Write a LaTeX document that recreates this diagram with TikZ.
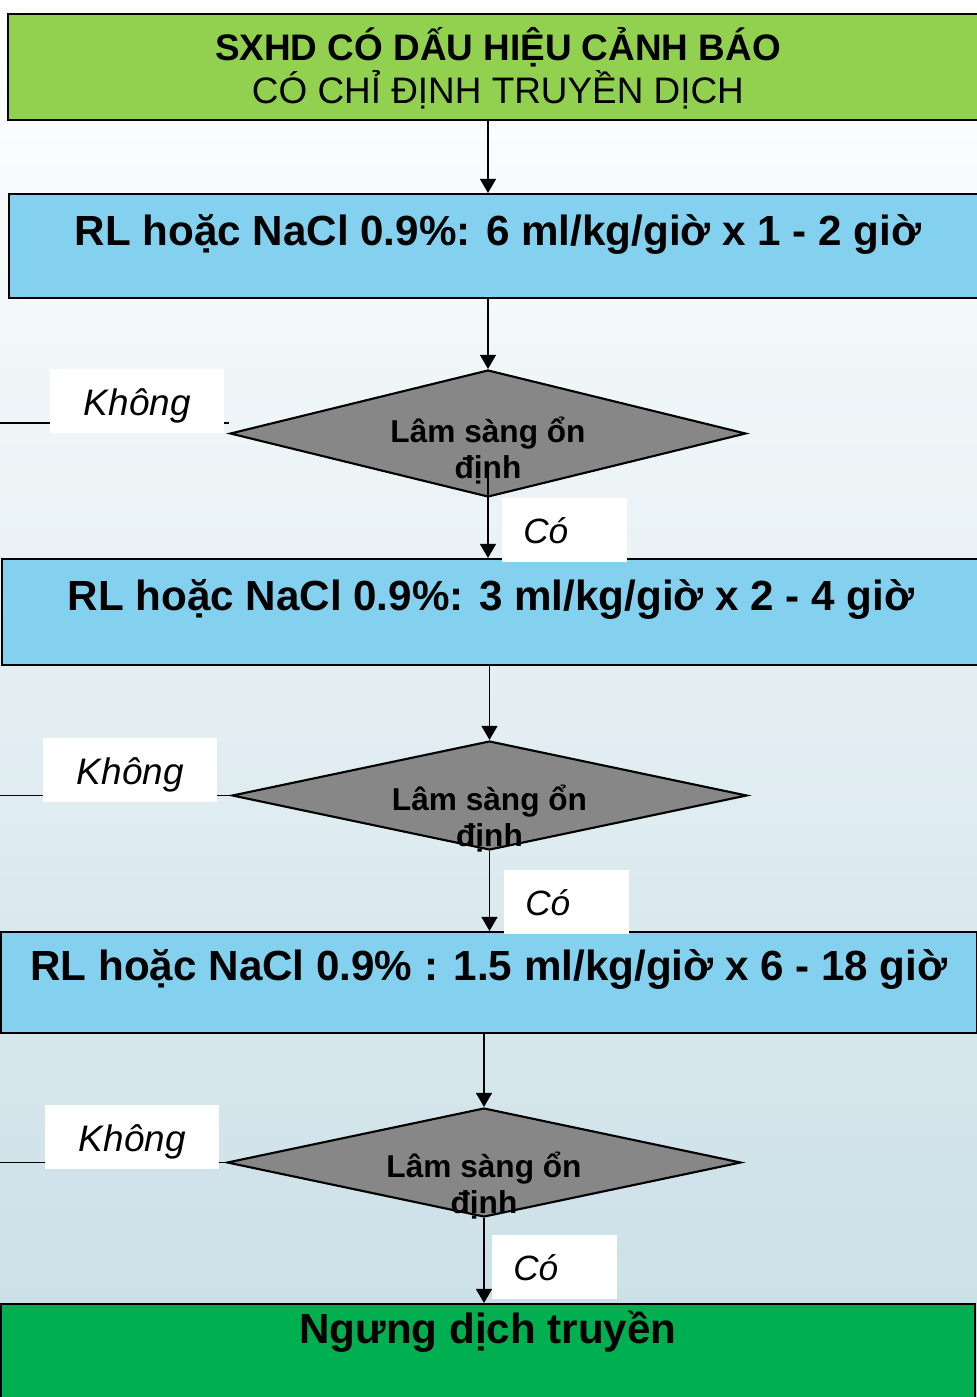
\documentclass[tikz,border=0pt]{standalone}
\usepackage{fontspec}
\setmainfont{Liberation Sans}
\usetikzlibrary{shapes.geometric,arrows.meta}

\definecolor{warngreen}{RGB}{146,208,80}
\definecolor{doseblue}{RGB}{131,209,239}
\definecolor{stopgreen}{RGB}{0,176,80}
\definecolor{askgray}{RGB}{135,135,135}
\definecolor{bgblue}{RGB}{200,222,230}

\tikzset{
  stage/.style={draw=black, line width=1.2pt, anchor=north west, inner sep=0pt,
    font=\bfseries\fontsize{24}{28}\selectfont},
  check/.style={diamond, draw=black, line width=1.2pt, fill=askgray, inner sep=0pt},
  asktext/.style={anchor=base, align=center, inner sep=0pt,
    font=\bfseries\fontsize{18}{20.4}\selectfont},
  nolabel/.style={fill=white, anchor=north west, inner sep=0pt,
    minimum width=3.48cm, minimum height=1.28cm, text height=0.92cm, text depth=0.36cm,
    font=\itshape\fontsize{21}{24}\selectfont},
  yeslabel/.style={fill=white, anchor=north west, inner xsep=0.42cm, inner ysep=0pt,
    text width=1.66cm, align=left, minimum height=1.28cm, text height=0.9cm, text depth=0.38cm,
    font=\itshape\fontsize{20}{24}\selectfont},
  flow/.style={line width=1.1pt, -{Triangle[length=8pt,width=9pt]}},
  link/.style={line width=1.1pt}
}

\begin{document}
\begin{tikzpicture}[x=0.02cm, y=-0.02cm]
\useasboundingbox (0,0) rectangle (977,1397);
\shade[top color=white, bottom color=bgblue] (0,0) rectangle (977,1397);
%\draw[help lines] (0,0) grid[step=100] (977,1397);

% boxes
\node[stage, fill=warngreen, minimum width=19.6cm, text height=1.78cm, text depth=0.34cm,
  align=center, font=\fontsize{21}{24.4}\selectfont] (warn) at (7,13)
  {\textbf{SXHD CÓ DẤU HIỆU CẢNH BÁO}\\CÓ CHỈ ĐỊNH TRUYỀN DỊCH};
\node[stage, fill=doseblue, minimum width=19.56cm, text height=1.02cm, text depth=1.06cm] (rate1) at (8,193)
  {RL hoặc NaCl 0.9\%: 6 ml/kg/giờ x 1 - 2 giờ};
\node[stage, fill=doseblue, minimum width=19.56cm, text height=1.02cm, text depth=1.1cm] (rate2) at (1,558)
  {RL hoặc NaCl 0.9\%: 3 ml/kg/giờ x 2 - 4 giờ};
\node[stage, fill=doseblue, minimum width=19.52cm, text height=0.96cm, text depth=1.06cm] (rate3) at (0,931)
  {RL hoặc NaCl 0.9\% : 1.5 ml/kg/giờ x 6 - 18 giờ};
\node[stage, fill=stopgreen, minimum width=19.48cm, text height=0.78cm, text depth=1.5cm] (stop) at (0,1303)
  {Ngưng dịch truyền};

% checks
\node[check, minimum width=10.32cm, minimum height=2.54cm] (q1) at (488,433.5) {};
\node[check, minimum width=10.3cm, minimum height=2.18cm] (q2) at (489.5,795.5) {};
\node[check, minimum width=10.28cm, minimum height=2.18cm] (q3) at (484,1162.5) {};
\node[asktext] (q1text) at ([yshift=-0.89cm]q1.center) {Lâm sàng ổn\\định};
\node[asktext] (q2text) at ([yshift=-1.01cm]q2.center) {Lâm sàng ổn\\định};
\node[asktext] (q3text) at ([yshift=-1.01cm]q3.center) {Lâm sàng ổn\\định};

% arrows
\draw[flow] (warn.south -| q1.north) -- (rate1.north -| q1.north);
\draw[flow] (rate1.south -| q1.north) -- (q1.north);
\draw[flow] ([yshift=0.4cm]q1.south) -- (rate2.north -| q1.south);
\draw[flow] (rate2.south -| q2.north) -- (q2.north);
\draw[flow] (q2.south) -- (rate3.north -| q2.south);
\draw[flow] (rate3.south -| q3.north) -- (q3.north);
\draw[flow] (q3.south) -- (stop.north -| q3.south);

% way out on the left
\coordinate (out1) at (0,423);
\coordinate (out2) at (0,795.5);
\coordinate (out3) at (0,1162.5);
\draw[link] (q1.west |- out1) -- (out1);
\draw[link] (q2.west) -- (out2);
\draw[link] (q3.west) -- (out3);

% answers
\node[nolabel] (no1) at (50,369) {Không};
\node[nolabel] (no2) at (43,738) {Không};
\node[nolabel] (no3) at (45,1105) {Không};
\node[yeslabel] (yes1) at (502,498) {Có};
\node[yeslabel] (yes2) at (504,870) {Có};
\node[yeslabel] (yes3) at (492,1235) {Có};
\end{tikzpicture}
\end{document}
